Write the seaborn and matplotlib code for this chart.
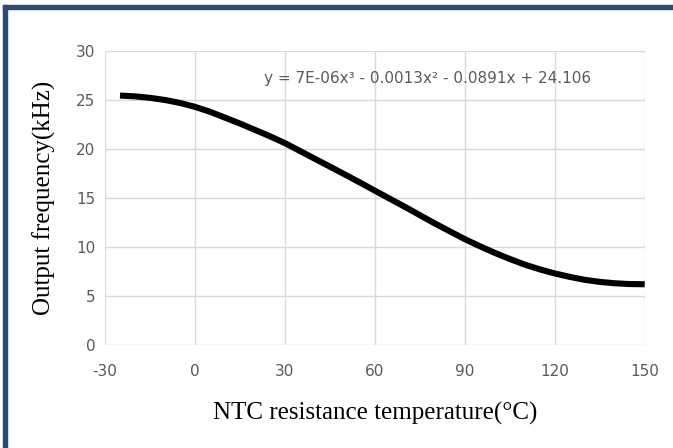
import matplotlib
matplotlib.use("Agg")
import matplotlib.pyplot as plt
from matplotlib.patches import Rectangle
import seaborn as sns

# values
temps = [-25, -20, -15, -10, -5, 0, 5, 10, 15, 20, 25, 30, 35, 40, 45, 50, 55, 60, 65, 70,
         75, 80, 85, 90, 95, 100, 105, 110, 115, 120, 125, 130, 135, 140, 145, 150]
freq = [25.45, 25.37, 25.22, 25.0, 24.7, 24.3, 23.8, 23.2, 22.6, 21.95, 21.3, 20.6,
        19.8, 19.0, 18.2, 17.4, 16.58, 15.75, 14.92, 14.1, 13.25, 12.4, 11.6, 10.8,
        10.08, 9.4, 8.78, 8.2, 7.72, 7.3, 6.95, 6.65, 6.44, 6.3, 6.22, 6.2]

x_ticks = [-30, 0, 30, 60, 90, 120, 150]
y_ticks = [0, 5, 10, 15, 20, 25, 30]
equation = "y = 7E-06x³ - 0.0013x² - 0.0891x + 24.106"

sns.set_theme(style="whitegrid")
plt.rcParams['font.family'] = ['DejaVu Sans']
plt.rcParams['axes.unicode_minus'] = False

fig = plt.figure(figsize=(6.73, 4.48), dpi=100)
ax = fig.add_axes([0.156, 0.2299, 0.802, 0.6563])

sns.lineplot(x=temps, y=freq, ax=ax, color='black', linewidth=4.4, solid_capstyle='butt')

ax.set_xlim(-30, 150)
ax.set_ylim(0, 30)
ax.set_xticks(x_ticks)
ax.set_yticks(y_ticks)
ax.grid(True, color='#d9d9d9', linewidth=1.0)
for s in ax.spines.values():
    s.set_visible(False)
ax.tick_params(axis='both', length=5, width=1.0, color='#d9d9d9',
               labelsize=11, labelcolor='#595959', pad=2)
ax.tick_params(axis='x', pad=9)

ax.text(77.7, 27.2, equation, ha='center', va='center', fontsize=11, color='#595959')

ax.set_xlabel("NTC resistance temperature(°C)", fontsize=18, family='Liberation Serif',
              color='black', labelpad=16)
ax.set_ylabel("Output frequency(kHz)", fontsize=18, family='Liberation Serif',
              color='black', labelpad=14)

# frame lines on top and left of the picture
fig.patches.append(Rectangle((0.0045, 0.980), 0.995, 0.009, transform=fig.transFigure,
                             color='#2d4a72', zorder=10))
fig.patches.append(Rectangle((0.0045, 0.0), 0.006, 0.989, transform=fig.transFigure,
                             color='#2d4a72', zorder=10))

fig.savefig("out.png", dpi=100, facecolor='white')
